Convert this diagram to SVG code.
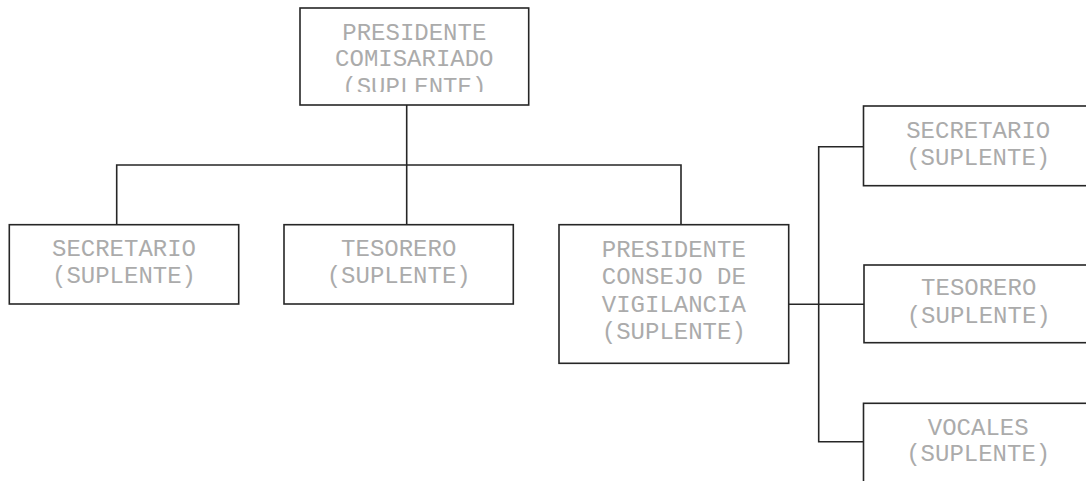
<svg xmlns="http://www.w3.org/2000/svg" width="1086" height="481" viewBox="0 0 1086 481">
<style>
.box{fill:#fff;stroke:#262626;stroke-width:1.6}
.t{font-family:"Liberation Mono","Courier New",monospace;font-size:24px;fill:#ababab;text-anchor:middle}
.c{fill:none;stroke:#262626;stroke-width:1.6}
</style>
<defs>
<clipPath id="clipTop"><rect x="300" y="8" width="229" height="84"/></clipPath>
</defs>
<g id="connectors">
<path class="c" d="M406.7,105 V224.7"/>
<path class="c" d="M116.7,224.7 V165 H681 V224.7"/>
<path class="c" d="M788.7,304.3 H864"/>
<path class="c" d="M864,146.7 H818.7 V441.7 H864"/>
</g>
<g id="presidente-comisariado">
<rect class="box" x="300" y="8" width="228.7" height="97"/>
<g clip-path="url(#clipTop)">
<text class="t" x="414.3" y="39.5">PRESIDENTE</text>
<text class="t" x="414.3" y="66">COMISARIADO</text>
<text class="t" x="414.3" y="94">(SUPLENTE)</text>
</g>
</g>
<g id="secretario">
<rect class="box" x="9.3" y="224.7" width="229.4" height="79.3"/>
<text class="t" x="124" y="256">SECRETARIO</text>
<text class="t" x="124" y="283">(SUPLENTE)</text>
</g>
<g id="tesorero">
<rect class="box" x="284" y="224.7" width="229.3" height="79.3"/>
<text class="t" x="398.7" y="256">TESORERO</text>
<text class="t" x="398.7" y="283">(SUPLENTE)</text>
</g>
<g id="presidente-consejo">
<rect class="box" x="559" y="224.7" width="229.7" height="138.6"/>
<text class="t" x="673.8" y="256.5">PRESIDENTE</text>
<text class="t" x="673.8" y="284">CONSEJO DE</text>
<text class="t" x="673.8" y="311.5">VIGILANCIA</text>
<text class="t" x="673.8" y="338.5">(SUPLENTE)</text>
</g>
<g id="secretario-consejo">
<rect class="box" x="863.5" y="106" width="229.4" height="79.7"/>
<text class="t" x="978.2" y="138">SECRETARIO</text>
<text class="t" x="978.2" y="165">(SUPLENTE)</text>
</g>
<g id="tesorero-consejo">
<rect class="box" x="864" y="265" width="229.4" height="77.7"/>
<text class="t" x="978.7" y="295">TESORERO</text>
<text class="t" x="978.7" y="322.5">(SUPLENTE)</text>
</g>
<g id="vocales">
<rect class="box" x="863.5" y="403.3" width="229.4" height="100"/>
<text class="t" x="978.2" y="435">VOCALES</text>
<text class="t" x="978.2" y="461">(SUPLENTE)</text>
</g>
</svg>
